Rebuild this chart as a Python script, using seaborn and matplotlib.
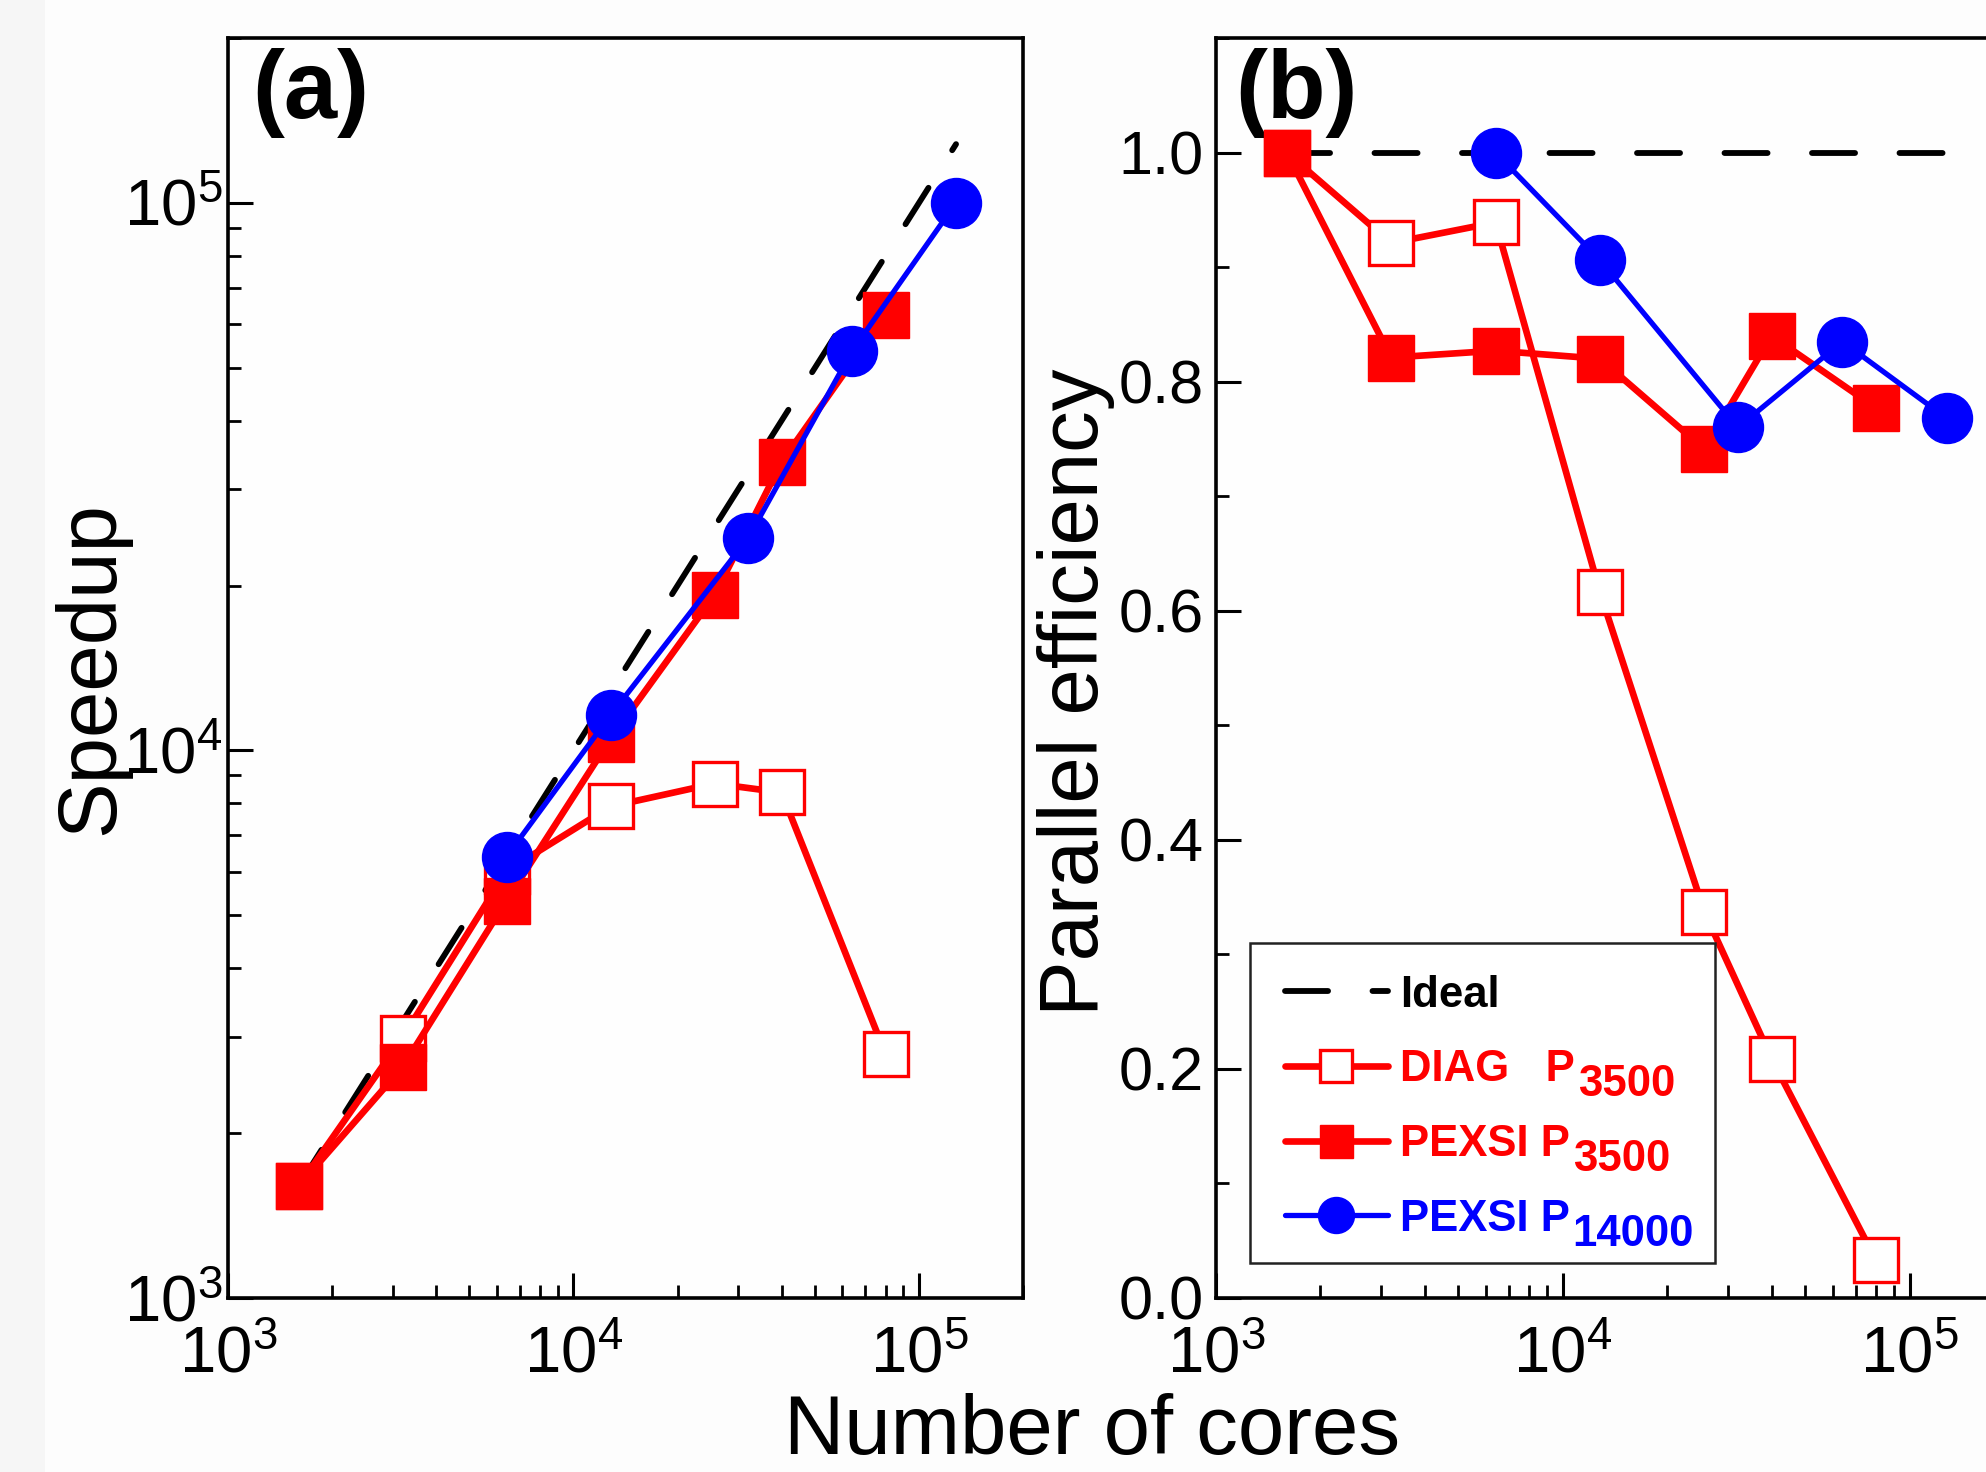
import matplotlib
matplotlib.use("Agg")
import matplotlib.pyplot as plt
import seaborn as sns
from matplotlib.patches import Rectangle
from matplotlib.ticker import LogLocator, MultipleLocator, NullFormatter, FormatStrFormatter

# ---- data -------------------------------------------------------------
cores_diag = [1600, 3200, 6400, 12800, 25600, 40000, 80000]
speedup_diag = [1600, 2990, 6020, 7900, 8700, 8380, 2790]
eff_diag = [1.0, 0.921, 0.939, 0.616, 0.337, 0.209, 0.033]

cores_p3500 = [1600, 3200, 6400, 12800, 25600, 40000, 80000]
speedup_p3500 = [1600, 2640, 5320, 10500, 19200, 33600, 62500]
eff_p3500 = [1.0, 0.821, 0.827, 0.820, 0.741, 0.840, 0.777]

cores_p14000 = [6400, 12800, 32000, 64000, 128000]
speedup_p14000 = [6400, 11600, 24400, 53600, 100000]
eff_p14000 = [1.0, 0.906, 0.760, 0.835, 0.768]

ideal_cores = [1600, 128000]
ideal_speedup = [1600, 128000]
ideal_eff = [1.0, 1.0]

legend_labels = ["Ideal", "DIAG   P", "PEXSI P", "PEXSI P"]
legend_subscripts = [None, "3500", "3500", "14000"]

RED = "#ff0000"
BLUE = "#0000ff"

# ---- style ------------------------------------------------------------
sns.set_theme(style="ticks")
plt.rcParams["font.family"] = ["Liberation Sans", "DejaVu Sans"]
plt.rcParams["mathtext.fontset"] = "custom"
plt.rcParams["mathtext.rm"] = "Liberation Sans"
plt.rcParams["mathtext.it"] = "Liberation Sans:italic"
plt.rcParams["mathtext.bf"] = "Liberation Sans:bold"
plt.rcParams["lines.scale_dashes"] = False
plt.rcParams["axes.linewidth"] = 2.6
plt.rcParams["text.color"] = "black"
plt.rcParams["axes.labelcolor"] = "black"
plt.rcParams["xtick.color"] = "black"
plt.rcParams["ytick.color"] = "black"

W, H = 1986, 1472
fig = plt.figure(figsize=(W / 100, H / 100), dpi=100)
fig.patch.set_facecolor("#fdfdfd")
fig.patches.append(Rectangle((0, 0), 45 / W, 1, transform=fig.transFigure,
                             facecolor="#f6f6f6", edgecolor="none", zorder=-10))

ax_w, ax_h = 795 / W, 1260 / H
ax_bottom = (H - 1298) / H
ax1 = fig.add_axes([228 / W, ax_bottom, ax_w, ax_h])
ax2 = fig.add_axes([1216 / W, ax_bottom, 798 / W, ax_h])

for ax in (ax1, ax2):
    ax.set_facecolor("#fefefe")
    ax.set_xscale("log")
    for sp in ax.spines.values():
        sp.set_linewidth(2.6)
        sp.set_color("black")
ax1.set_yscale("log")

ideal_kw = dict(color="black", linewidth=4.2, linestyle=(0, (31, 32)),
                dash_capstyle="round", zorder=2)
diag_kw = dict(color=RED, linewidth=4.8, marker="s", markersize=32,
               markerfacecolor="white", markeredgecolor=RED,
               markeredgewidth=2.4, zorder=3)
p35_kw = dict(color=RED, linewidth=4.8, marker="s", markersize=33,
              markerfacecolor=RED, markeredgecolor=RED,
              markeredgewidth=1.0, zorder=4)
p14_kw = dict(color=BLUE, linewidth=3.8, marker="o", markersize=36,
              markerfacecolor=BLUE, markeredgecolor=BLUE,
              markeredgewidth=1.0, zorder=5)

common = dict(estimator=None, errorbar=None, sort=True, legend=False)

# (a) speedup
sns.lineplot(x=ideal_cores, y=ideal_speedup, ax=ax1, **common, **ideal_kw)
sns.lineplot(x=cores_diag, y=speedup_diag, ax=ax1, **common, **diag_kw)
sns.lineplot(x=cores_p3500, y=speedup_p3500, ax=ax1, **common, **p35_kw)
sns.lineplot(x=cores_p14000, y=speedup_p14000, ax=ax1, **common, **p14_kw)

# (b) parallel efficiency
sns.lineplot(x=ideal_cores, y=ideal_eff, ax=ax2, **common, **ideal_kw)
sns.lineplot(x=cores_diag, y=eff_diag, ax=ax2, **common, **diag_kw)
sns.lineplot(x=cores_p3500, y=eff_p3500, ax=ax2, **common, **p35_kw)
sns.lineplot(x=cores_p14000, y=eff_p14000, ax=ax2, **common, **p14_kw)

# ---- axes limits and ticks -------------------------------------------
for ax in (ax1, ax2):
    ax.set_xlim(1e3, 2e5)
    ax.xaxis.set_major_locator(LogLocator(base=10, numticks=10))
    ax.xaxis.set_minor_locator(LogLocator(base=10, subs=range(2, 10), numticks=20))
    ax.xaxis.set_minor_formatter(NullFormatter())
    ax.tick_params(axis="both", which="major", direction="in", length=18,
                   width=2.2, labelsize=44, top=False, right=False,
                   color="black", labelcolor="black")
    ax.tick_params(axis="both", which="minor", direction="in", length=9.5,
                   width=2.0, top=False, right=False, color="black")
    ax.tick_params(axis="x", which="major", pad=20, labelsize=47)
    ax.set_xlabel("")

ax1.set_ylim(1e3, 2e5)
ax1.yaxis.set_major_locator(LogLocator(base=10, numticks=10))
ax1.yaxis.set_minor_locator(LogLocator(base=10, subs=range(2, 10), numticks=20))
ax1.yaxis.set_minor_formatter(NullFormatter())
ax1.tick_params(axis="y", which="major", pad=4, labelsize=47)

ax2.set_ylim(0, 1.1)
ax2.yaxis.set_major_locator(MultipleLocator(0.2))
ax2.yaxis.set_minor_locator(MultipleLocator(0.1))
ax2.yaxis.set_major_formatter(FormatStrFormatter("%.1f"))
ax2.tick_params(axis="y", which="major", pad=9)

ax1.set_ylabel("Speedup", fontsize=60)
ax1.yaxis.set_label_coords(-0.1225, 0.5)
ax2.set_ylabel("Parallel efficiency", fontsize=60)
ax2.yaxis.set_label_coords(-0.1266, 0.481)

fig.text(1092 / W, 0.001, "Number of cores", fontsize=60, ha="center",
         va="bottom")

ax1.text(0.031, 0.9365, "(a)", transform=ax1.transAxes, fontsize=69,
         fontweight="bold", ha="left", va="baseline")
ax2.text(0.024, 0.9365, "(b)", transform=ax2.transAxes, fontsize=69,
         fontweight="bold", ha="left", va="baseline")

# ---- legend ----------------------------------------------------------
handles = ax2.get_lines()
leg = ax2.legend(handles, legend_labels, loc="upper left",
                 bbox_to_anchor=(0.0865, 0.2567), frameon=False,
                 prop=dict(family="Liberation Sans", weight="bold", size=31.5),
                 handlelength=2.35, handletextpad=0.28, labelspacing=0.77,
                 borderpad=0, borderaxespad=0, labelcolor="linecolor",
                 markerscale=0.72)
leg.set_zorder(6)
for txt, sub in zip(leg.get_texts(), legend_subscripts):
    if sub is None:
        continue
    ax2.annotate(sub, xy=(1, 0), xycoords=txt, xytext=(2, -4.5),
                 textcoords="offset points", ha="left", va="baseline",
                 fontsize=31.5, fontweight="bold", color=txt.get_color(),
                 zorder=7)

ax2.add_patch(Rectangle((0.0426, 0.0278), 0.5827, 0.2539,
                        transform=ax2.transAxes, facecolor="white",
                        edgecolor="#222222", linewidth=1.8, zorder=5.5))

fig.savefig("out.png", dpi=100, facecolor=fig.get_facecolor())
